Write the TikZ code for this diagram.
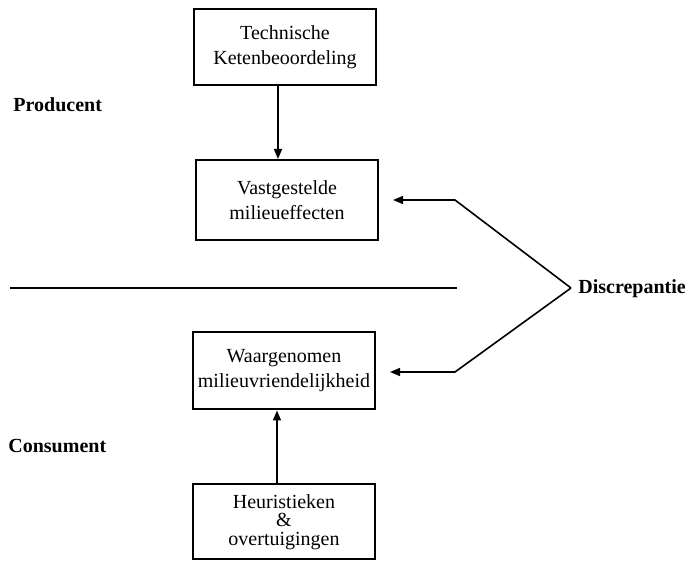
\documentclass[tikz,border=0pt]{standalone}
\usepackage{fontspec}
\setmainfont{Liberation Serif}
\usetikzlibrary{arrows.meta}
\begin{document}
\begin{tikzpicture}[x=0.5pt,y=-0.5pt,
  box/.style={draw,line width=1pt,minimum width=91pt,inner sep=0pt,align=center,
    font=\fontsize{10}{12.5}\selectfont},
  lbl/.style={font=\fontsize{10}{12}\selectfont\bfseries,inner sep=0pt},
  conn/.style={line width=0.8pt},
  arr/.style={conn,-{Triangle[length=5pt,width=4pt]}}]
\useasboundingbox (0,0) rectangle (686,565);
\node[box,minimum height=38pt] (tech) at (285,47) {Technische\\Ketenbeoordeling};
\node[box,minimum height=40pt] (vast) at (287,200) {Vastgestelde\\milieueffecten};
\node[box,minimum height=38.5pt] (waar) at (284,371) {Waargenomen\\milieuvriendelijkheid};
\node[box,minimum height=37.5pt,font=\fontsize{10}{9.3}\selectfont] (heur) at (284,522) {Heuristieken\\\&\\overtuigingen};
\node[lbl,anchor=west] (prod) at (13,105) {Producent};
\node[lbl,anchor=west] (cons) at (8,446) {Consument};
\node[lbl,anchor=west] (disc) at (578,289) {Discrepantie};
\coordinate (apex) at (571,288);
\coordinate (c1) at (455,200);
\coordinate (c2) at (455,372);
\coordinate (h1) at (10,288);
\coordinate (h2) at (457,288);
\draw[line width=1pt] (h1) -- (h2);
\draw[arr] (tech.south -| 278,0) -- (vast.north -| 278,0);
\draw[arr] (heur.north -| 277,0) -- (waar.south -| 277,0);
\draw[arr,shorten >=7pt] (apex) -- (c1) -- (vast.east |- c1);
\draw[arr,shorten >=7pt] (apex) -- (c2) -- (waar.east |- c2);
\end{tikzpicture}
\end{document}
